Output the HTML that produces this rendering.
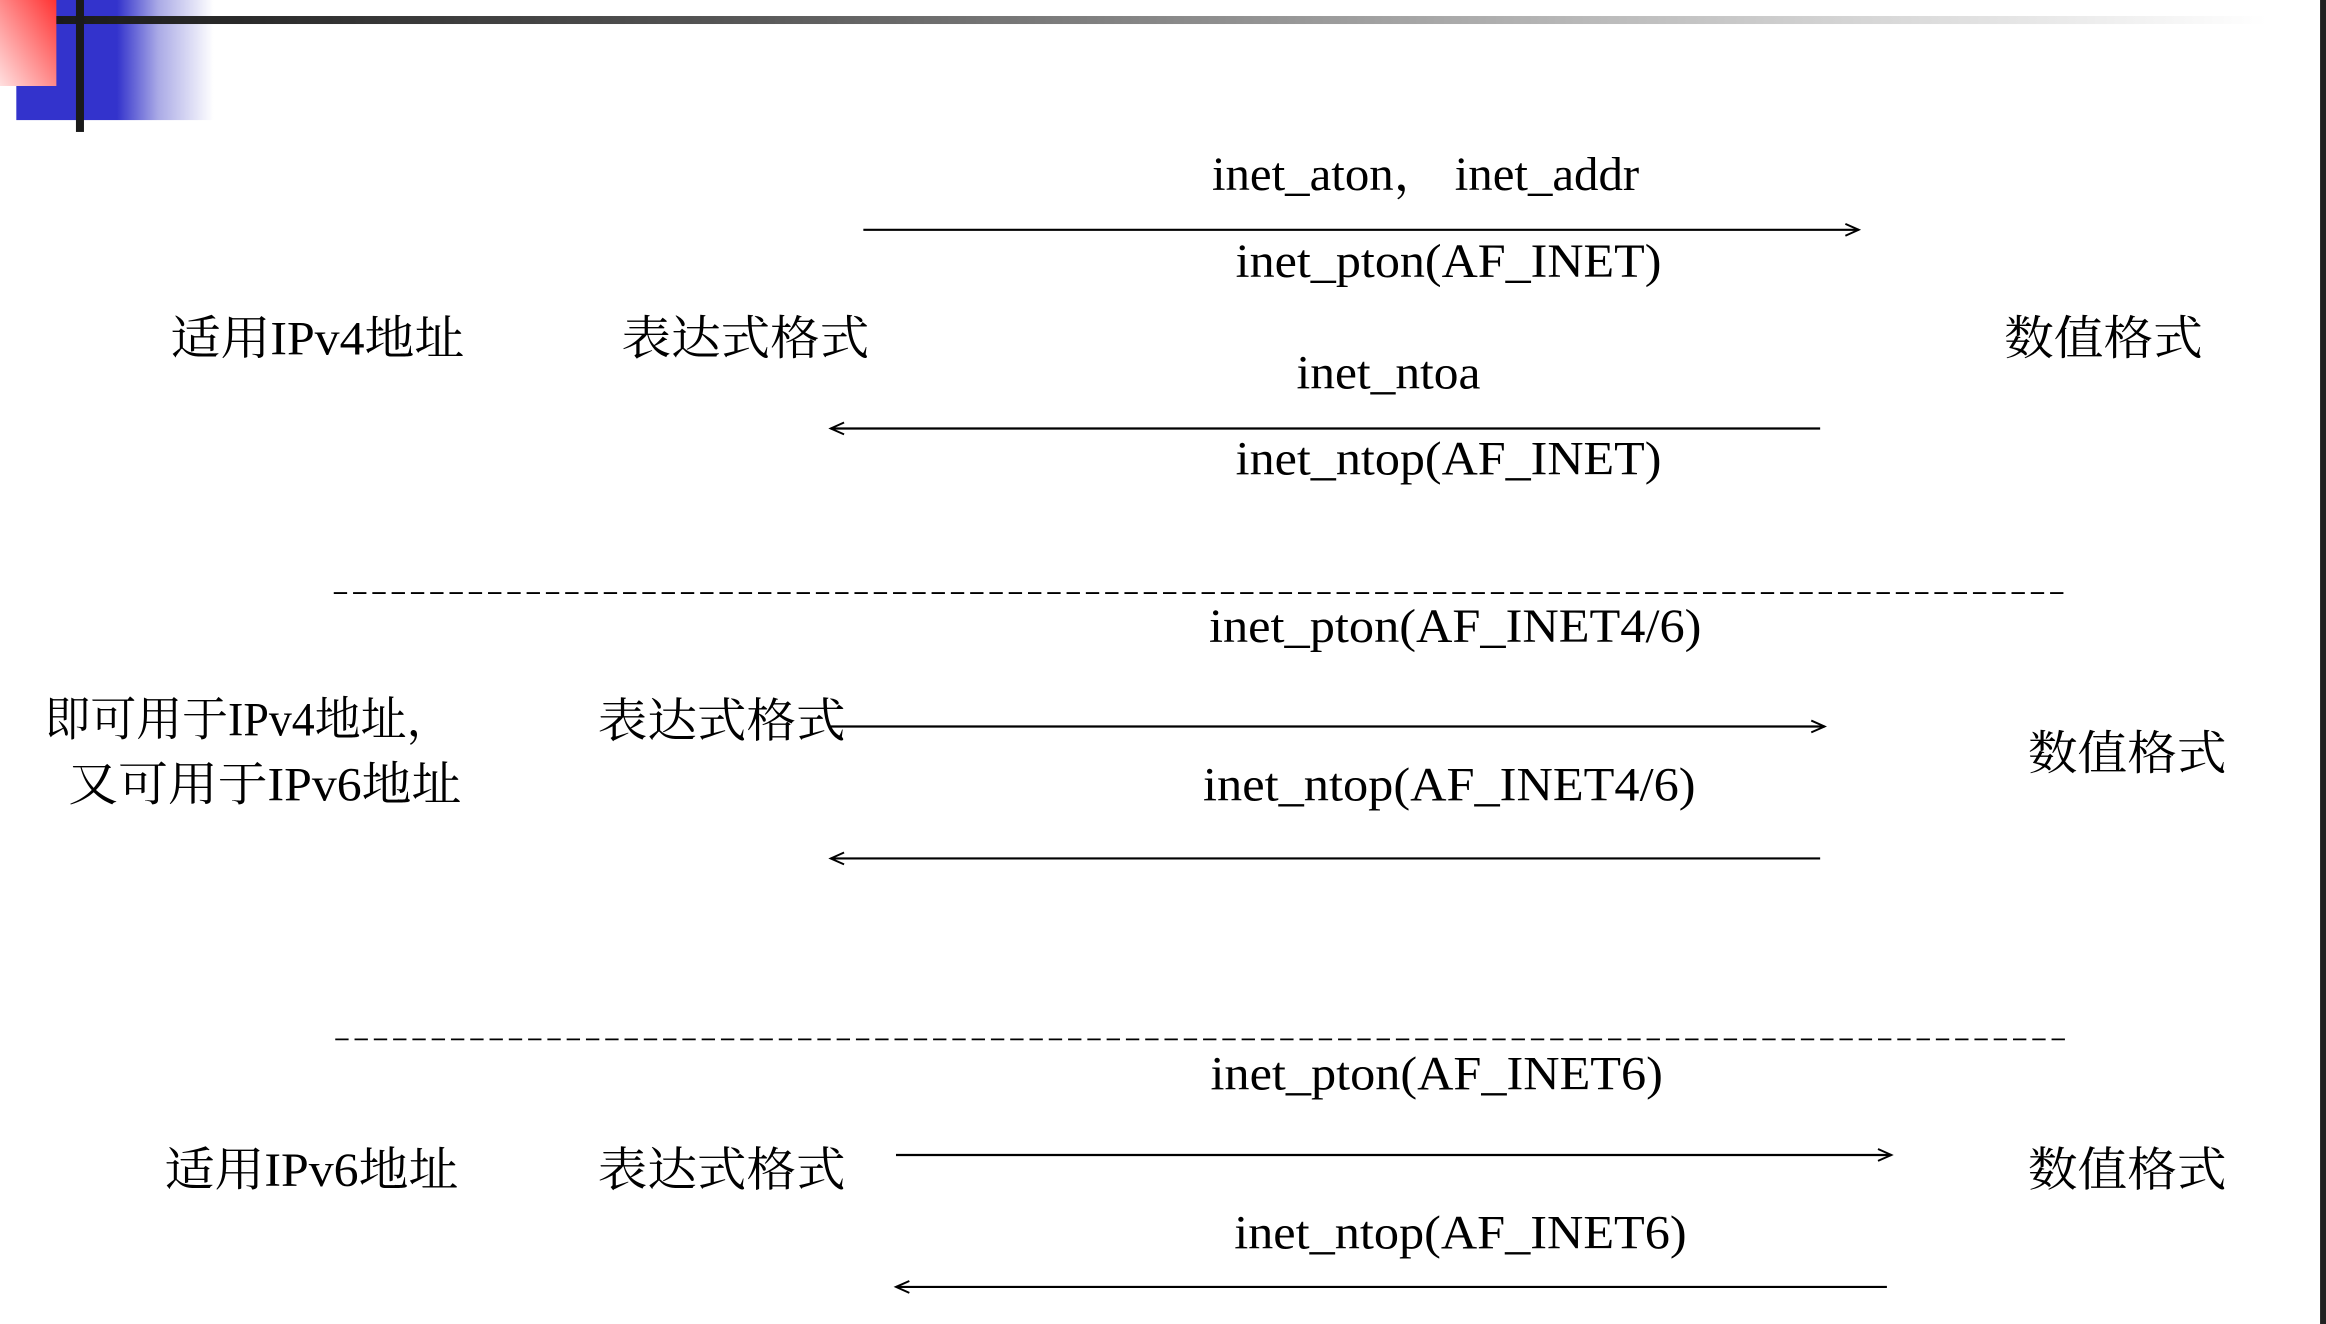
<!DOCTYPE html>
<html><head><meta charset="utf-8"><style>
html,body{margin:0;padding:0;background:#fff;overflow:hidden}
svg{display:block}
text{font-family:"Liberation Serif","Noto Serif CJK SC",serif;font-size:32px;fill:#000}
</style></head><body>
<svg width="2326" height="1324" viewBox="0 0 1568 893" preserveAspectRatio="none">
<defs>
<linearGradient id="blueG" x1="0" x2="1" y1="0" y2="0">
<stop offset="0" stop-color="#3333cc"/><stop offset="0.51" stop-color="#3333cc"/><stop offset="0.72" stop-color="#aaaae6"/><stop offset="1" stop-color="#fff"/></linearGradient>
<linearGradient id="redG" x1="1" y1="0" x2="0" y2="1">
<stop offset="0" stop-color="#ff3333"/><stop offset="1" stop-color="#ffe0e0"/></linearGradient>
<linearGradient id="barG" x1="0" x2="1" y1="0" y2="0">
<stop offset="0" stop-color="#1a1a1a"/><stop offset="0.3" stop-color="#555"/><stop offset="0.7" stop-color="#bbb"/><stop offset="1" stop-color="#fff"/></linearGradient>
<marker id="ah" markerWidth="12" markerHeight="10" refX="10" refY="5" orient="auto" markerUnits="userSpaceOnUse">
<path d="M1,1 L10,5 L1,9" fill="none" stroke="#000" stroke-width="1.3"/></marker>
</defs>
<g>
<rect x="11" y="0" width="133" height="81" fill="url(#blueG)"/>
<rect x="0" y="0" width="38" height="58" fill="url(#redG)"/>
<rect x="38" y="10.8" width="1490" height="5.4" fill="url(#barG)"/>
<rect x="51.2" y="0" width="5.4" height="89" fill="#1a1a1a"/>
<rect x="1564" y="0" width="4" height="893" fill="#222"/>
</g>
<g stroke="#000" stroke-width="1.5" fill="none">
<line x1="582" y1="155" x2="1253" y2="155" marker-end="url(#ah)"/>
<line x1="1227" y1="289" x2="560" y2="289" marker-end="url(#ah)"/>
<line x1="560" y1="490" x2="1230" y2="490" marker-end="url(#ah)"/>
<line x1="1227" y1="579" x2="560" y2="579" marker-end="url(#ah)"/>
<line x1="604" y1="779" x2="1275" y2="779" marker-end="url(#ah)"/>
<line x1="1272" y1="868" x2="604" y2="868" marker-end="url(#ah)"/>
<line x1="225" y1="400" x2="1392" y2="400" stroke-dasharray="9,4" stroke-width="1.2"/>
<line x1="226" y1="701" x2="1393" y2="701" stroke-dasharray="9,4" stroke-width="1.2"/>
</g>
<g>
<text x="817" y="128" textLength="288" lengthAdjust="spacingAndGlyphs">inet_aton， inet_addr</text>
<text x="833" y="187" textLength="287" lengthAdjust="spacingAndGlyphs">inet_pton(AF_INET)</text>
<text x="115" y="239" textLength="198" lengthAdjust="spacingAndGlyphs">适用IPv4地址</text>
<text x="419" y="239" textLength="167" lengthAdjust="spacingAndGlyphs">表达式格式</text>
<text x="1351" y="239" textLength="134" lengthAdjust="spacingAndGlyphs">数值格式</text>
<text x="874" y="262" textLength="124" lengthAdjust="spacingAndGlyphs">inet_ntoa</text>
<text x="833" y="320" textLength="287" lengthAdjust="spacingAndGlyphs">inet_ntop(AF_INET)</text>
<text x="815" y="433" textLength="332" lengthAdjust="spacingAndGlyphs">inet_pton(AF_INET4/6)</text>
<text x="30" y="496" textLength="275" lengthAdjust="spacingAndGlyphs">即可用于IPv4地址，</text>
<text x="46" y="540" textLength="265" lengthAdjust="spacingAndGlyphs">又可用于IPv6地址</text>
<text x="403" y="497" textLength="167" lengthAdjust="spacingAndGlyphs">表达式格式</text>
<text x="1367" y="519" textLength="134" lengthAdjust="spacingAndGlyphs">数值格式</text>
<text x="811" y="540" textLength="332" lengthAdjust="spacingAndGlyphs">inet_ntop(AF_INET4/6)</text>
<text x="816" y="735" textLength="305" lengthAdjust="spacingAndGlyphs">inet_pton(AF_INET6)</text>
<text x="111" y="800" textLength="198" lengthAdjust="spacingAndGlyphs">适用IPv6地址</text>
<text x="403" y="800" textLength="167" lengthAdjust="spacingAndGlyphs">表达式格式</text>
<text x="1367" y="800" textLength="134" lengthAdjust="spacingAndGlyphs">数值格式</text>
<text x="832" y="842" textLength="305" lengthAdjust="spacingAndGlyphs">inet_ntop(AF_INET6)</text>
</g>
</svg>
</body></html>
